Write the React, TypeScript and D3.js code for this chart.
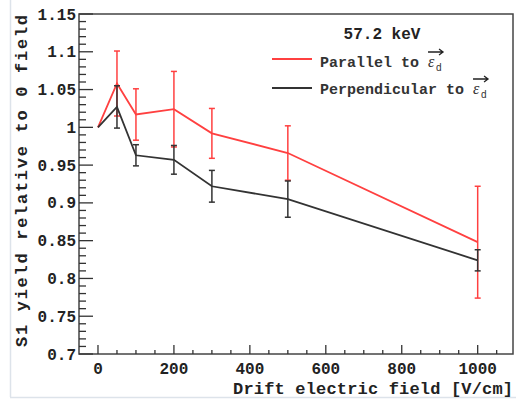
import * as d3 from 'd3';
import React, { useRef, useEffect } from 'react';

// drift field values [V/cm]
const fields = [0, 50, 100, 200, 300, 500, 1000];
// S1 yield relative to 0 field, parallel to E_d
const parallelY = [1.0, 1.058, 1.017, 1.024, 0.992, 0.966, 0.848];
const parallelErr = [0, 0.043, 0.034, 0.05, 0.033, 0.036, 0.074];
// perpendicular to E_d
const perpY = [1.0, 1.027, 0.963, 0.957, 0.922, 0.905, 0.824];
const perpErr = [0, 0.028, 0.014, 0.019, 0.021, 0.024, 0.014];

const xTicks = [0, 200, 400, 600, 800, 1000];
const yTicks = [0.7, 0.75, 0.8, 0.85, 0.9, 0.95, 1, 1.05, 1.1, 1.15];

const W = 516, H = 401;
const mono = '"Liberation Mono", "DejaVu Sans Mono", monospace';

function App() {
  const ref = useRef(null);

  useEffect(() => {
    const svg = d3.select(ref.current);
    svg.selectAll('*').remove();

    const left = 79, right = 513, top = 14, bottom = 354;
    const x = d3.scaleLinear().domain([-50, 1093]).range([left, right]);
    const y = d3.scaleLinear().domain([0.7, 1.15]).range([bottom, top]);

    svg.append('rect').attr('width', W).attr('height', H).attr('fill', '#fff');
    // faint page border
    svg.append('line').attr('x1', 10.5).attr('x2', 10.5).attr('y1', 0).attr('y2', 397)
      .attr('stroke', '#dde3ea').attr('stroke-width', 1.5);
    svg.append('line').attr('x1', 10).attr('x2', W).attr('y1', 397.5).attr('y2', 397.5)
      .attr('stroke', '#dde3ea').attr('stroke-width', 1.5);

    // frame
    svg.append('rect').attr('x', left).attr('y', top)
      .attr('width', right - left).attr('height', bottom - top)
      .attr('fill', 'none').attr('stroke', '#444').attr('stroke-width', 1.5);

    // x axis ticks (inside)
    const xMinor = d3.range(0, 1093, 50);
    svg.append('g').selectAll('line').data(xMinor).enter().append('line')
      .attr('x1', d => x(d)).attr('x2', d => x(d))
      .attr('y1', bottom).attr('y2', d => bottom - (d % 200 === 0 ? 9 : 4))
      .attr('stroke', '#333').attr('stroke-width', 1.3);
    svg.append('g').selectAll('text').data(xTicks).enter().append('text')
      .attr('x', d => x(d)).attr('y', 374)
      .attr('text-anchor', 'middle')
      .attr('font-family', mono).attr('font-weight', 'bold').attr('font-size', 16)
      .attr('fill', '#222').text(d => d);

    // y axis ticks
    const yMinor = d3.range(70, 115.5, 1).map(v => v / 100);
    svg.append('g').selectAll('line').data(yMinor).enter().append('line')
      .attr('x1', left).attr('x2', (d, i) => left + (i % 5 === 0 ? 14 : 7))
      .attr('y1', d => y(d)).attr('y2', d => y(d))
      .attr('stroke', '#333').attr('stroke-width', 1.3);
    svg.append('g').selectAll('text').data(yTicks).enter().append('text')
      .attr('x', 76).attr('y', d => y(d) + 5.5)
      .attr('text-anchor', 'end')
      .attr('font-family', mono).attr('font-weight', 'bold').attr('font-size', 16)
      .attr('fill', '#222').text(d => d3.format('~g')(d));

    // axis titles
    svg.append('text').attr('x', 513).attr('y', 394).attr('text-anchor', 'end')
      .attr('font-family', mono).attr('font-weight', 'bold').attr('font-size', 17)
      .attr('textLength', 280).attr('fill', '#222')
      .text('Drift electric field [V/cm]');
    svg.append('text').attr('transform', 'translate(27,15) rotate(-90)')
      .attr('text-anchor', 'end')
      .attr('font-family', mono).attr('font-weight', 'bold').attr('font-size', 17)
      .attr('textLength', 332).attr('fill', '#222')
      .text('S1 yield relative to 0 field');

    const series = [
      { ys: parallelY, err: parallelErr, color: '#ff4040' },
      { ys: perpY, err: perpErr, color: '#333' },
    ];
    const line = d3.line().x(d => x(d[0])).y(d => y(d[1]));
    series.forEach(s => {
      const pts = fields.map((f, i) => [f, s.ys[i], s.err[i]]);
      svg.append('path').datum(pts).attr('d', line)
        .attr('fill', 'none').attr('stroke', s.color).attr('stroke-width', 1.8);
      const bars = svg.append('g').attr('stroke', s.color).attr('stroke-width', 1.5);
      pts.filter(p => p[2] > 0).forEach(p => {
        const cx = x(p[0]);
        bars.append('line').attr('x1', cx).attr('x2', cx)
          .attr('y1', y(p[1] + p[2])).attr('y2', y(p[1] - p[2]));
        [p[1] + p[2], p[1] - p[2]].forEach(v => {
          bars.append('line').attr('x1', cx - 3).attr('x2', cx + 3)
            .attr('y1', y(v)).attr('y2', y(v));
        });
      });
    });

    // legend
    svg.append('text').attr('x', 382).attr('y', 39).attr('text-anchor', 'middle')
      .attr('font-family', mono).attr('font-weight', 'bold').attr('font-size', 16)
      .attr('fill', '#222').text('57.2 keV');
    const legend = [
      { label: 'Parallel to ', color: '#ff4040', ly: 59, ty: 67 },
      { label: 'Perpendicular to ', color: '#333', ly: 88, ty: 94 },
    ];
    legend.forEach(l => {
      svg.append('line').attr('x1', 272).attr('x2', 312).attr('y1', l.ly).attr('y2', l.ly)
        .attr('stroke', l.color).attr('stroke-width', 1.8);
      const t = svg.append('text').attr('x', 320).attr('y', l.ty)
        .attr('font-family', mono).attr('font-weight', 'bold').attr('font-size', 15)
        .attr('fill', '#333').attr('xml:space', 'preserve').text(l.label);
      const w = t.node().getComputedTextLength();
      const ex = 320 + w;
      svg.append('text').attr('x', ex).attr('y', l.ty)
        .attr('font-family', '"Liberation Serif", serif').attr('font-style', 'italic')
        .attr('font-size', 16).attr('fill', '#333').text('ε');
      svg.append('text').attr('x', ex + 8).attr('y', l.ty + 4)
        .attr('font-family', '"Liberation Sans", sans-serif')
        .attr('font-size', 10).attr('fill', '#333').text('d');
      svg.append('path')
        .attr('d', `M${ex},${l.ty - 15}H${ex + 15}M${ex + 11},${l.ty - 18}L${ex + 15},${l.ty - 15}L${ex + 11},${l.ty - 12}`)
        .attr('fill', 'none').attr('stroke', '#222').attr('stroke-width', 1.3);
    });
  }, []);

  return (
    <svg ref={ref} width={W} height={H}
      style={{ position: 'absolute', left: 0, top: 0, display: 'block' }} />
  );
}

export default App;
